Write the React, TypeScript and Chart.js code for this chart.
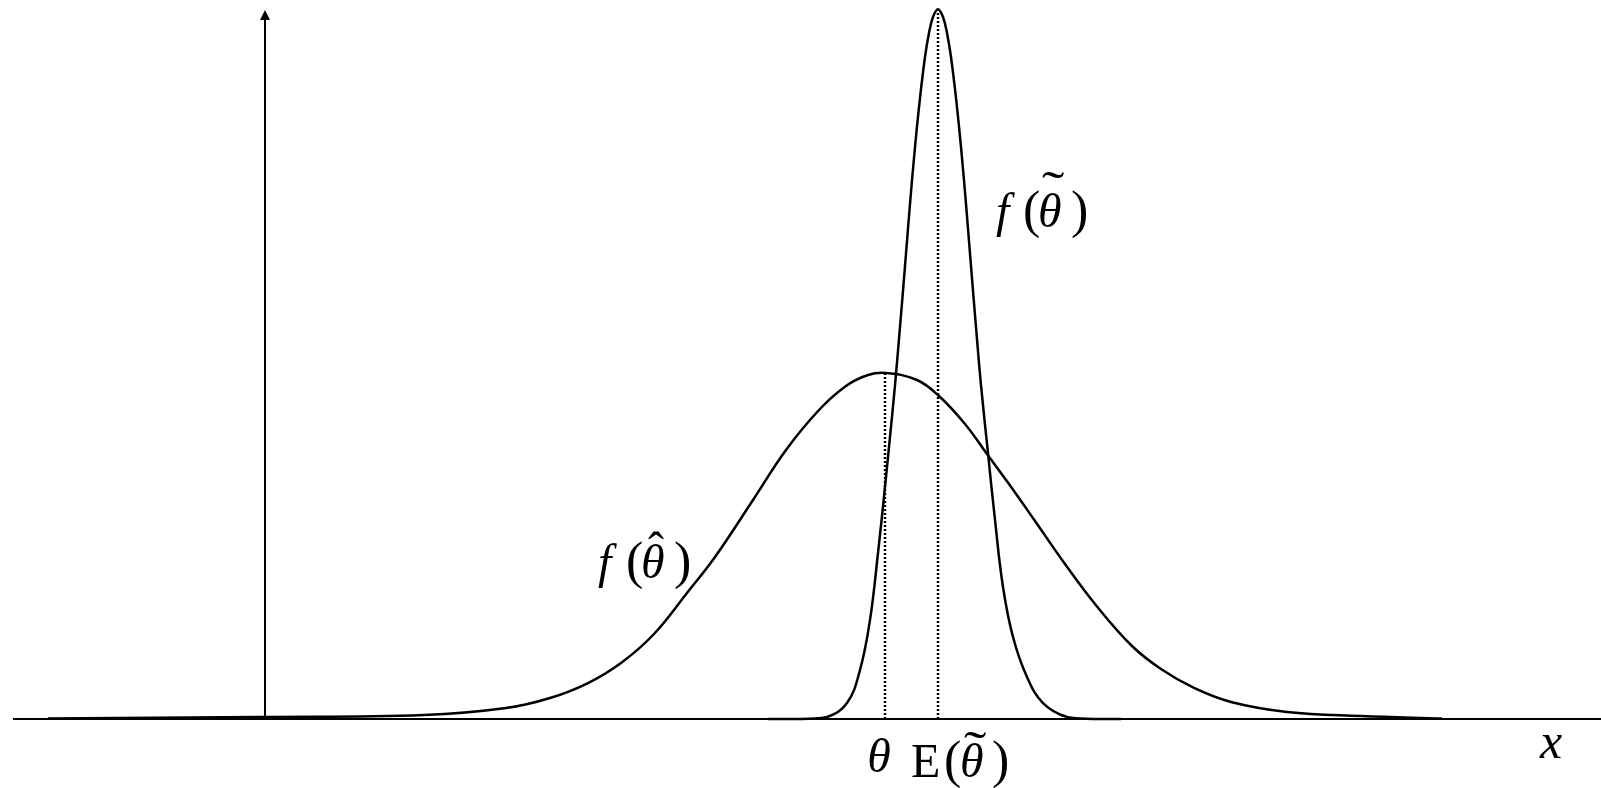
import { useEffect, useRef } from "react";
import { Chart, registerables } from "chart.js";

Chart.register(...registerables);

// Horizontal unit: θ sits at 0; vertical unit: density height (0 = baseline).
const wideX = [
  -83.7, -62.6, -46.1, -37.9, -33.5, -29.7, -26.4, -23.1, -19.8, -17.0, -13.2, -9.9,
  -6.6, -3.9, -1.7, 0.1, 3.2, 5.4, 8.0, 10.2, 12.4, 15.0, 18.0, 21.0, 24.7, 27.6,
  30.9, 34.6, 40.2, 47.6, 55.7,
];
const wideY = [
  0.07, 0.28, 0.56, 1.55, 2.96, 5.07, 7.89, 11.97, 17.75, 22.82, 30.85, 37.89,
  43.52, 46.9, 48.45, 48.73, 47.75, 45.49, 41.55, 37.32, 33.1, 27.89, 21.83, 16.2,
  10.28, 7.04, 4.37, 2.39, 0.99, 0.42, 0.07,
];

const narrowX = [
  -11.7, -8.2, -5.8, -3.8, -2.5, -1.5, -0.7, 0.0, 0.5, 1.0, 1.5, 2.0, 2.5, 3.0, 3.5,
  4.0, 4.4, 4.8, 5.3, 5.8, 6.2, 6.6, 7.1, 7.6, 8.1, 8.6, 9.1, 9.6, 10.3, 11.0, 11.8,
  12.8, 14.2, 15.8, 18.2, 20.8, 23.6,
];
const narrowY = [
  0, 0, 0.28, 2.25, 6.9, 13.94, 23.38, 32.68, 39.72, 47.04, 55.21, 63.8, 72.54,
  80.56, 87.46, 93.24, 96.62, 98.87, 99.96, 98.87, 96.62, 93.24, 87.46, 80.56, 72.54,
  63.8, 55.21, 47.04, 37.46, 28.03, 18.59, 11.55, 5.92, 2.25, 0.28, 0, 0,
];

// Marked positions on the horizontal axis
const THETA = 0;
const E_THETA_TILDE = 5.3;

// Vertical axis placement and arrow tip
const Y_AXIS_AT = -62;
const Y_AXIS_TOP = 99.86;

const X_MIN = -87.2;
const X_MAX = 71.6;
const Y_MAX = 101.27;

const toPoints = (xs: number[], ys: number[]) => xs.map((x, i) => ({ x, y: ys[i] }));

const SERIF = '"Liberation Serif", "Times New Roman", serif';
const it = (px: number) => `italic ${px}px ${SERIF}`;
const up = (px: number) => `${px}px ${SERIF}`;

type Piece = { t: string; dx: number; font: string; dy?: number; sx?: number };

function drawPieces(ctx: CanvasRenderingContext2D, x: number, y: number, pieces: Piece[]) {
  for (const p of pieces) {
    ctx.save();
    ctx.font = p.font;
    ctx.translate(x + p.dx, y + (p.dy ?? 0));
    if (p.sx) ctx.scale(p.sx, 1);
    ctx.fillText(p.t, 0, 0);
    ctx.restore();
  }
}

const axesAndLabels = {
  id: "axesAndLabels",
  beforeDatasetsDraw(chart: Chart) {
    const { ctx, chartArea } = chart;
    const xs = chart.scales.x;
    const ys = chart.scales.y;
    const y0 = ys.getPixelForValue(0);
    ctx.save();
    ctx.strokeStyle = "#000";
    ctx.fillStyle = "#000";
    // horizontal axis
    ctx.lineWidth = 2;
    ctx.beginPath();
    ctx.moveTo(chartArea.left, y0);
    ctx.lineTo(chartArea.right, y0);
    ctx.stroke();
    // vertical axis with arrow head
    const ax = xs.getPixelForValue(Y_AXIS_AT);
    const tip = ys.getPixelForValue(Y_AXIS_TOP);
    ctx.lineWidth = 2;
    ctx.beginPath();
    ctx.moveTo(ax, y0);
    ctx.lineTo(ax, tip + 8);
    ctx.stroke();
    ctx.beginPath();
    ctx.moveTo(ax, tip);
    ctx.lineTo(ax - 5, tip + 10);
    ctx.lineTo(ax + 5, tip + 10);
    ctx.closePath();
    ctx.fill();
    ctx.restore();
  },
  afterDatasetsDraw(chart: Chart) {
    const { ctx, chartArea } = chart;
    const xs = chart.scales.x;
    const ys = chart.scales.y;
    const y0 = ys.getPixelForValue(0);
    ctx.save();
    ctx.fillStyle = "#000";
    ctx.textBaseline = "alphabetic";
    ctx.textAlign = "left";

    // f(θ̂) beside the wide curve
    const hx = xs.getPixelForValue(-29.1);
    const hy = ys.getPixelForValue(19.86);
    drawPieces(ctx, hx, hy, [
      { t: "f", dx: 4, font: it(48) },
      { t: "(", dx: 32, font: up(52) },
      { t: "θ", dx: 47, font: it(48) },
      { t: "ˆ", dx: 54, dy: -12, font: up(48) },
      { t: ")", dx: 80, font: up(52) },
    ]);

    // f(θ̃) beside the narrow curve
    const tx = xs.getPixelForValue(10.7);
    const ty = ys.getPixelForValue(69.23);
    drawPieces(ctx, tx, ty, [
      { t: "f", dx: 4, font: it(48) },
      { t: "(", dx: 31, font: up(52) },
      { t: "θ", dx: 46, font: it(48) },
      { t: "˜", dx: 50, dy: -22, font: up(48), sx: 1.4 },
      { t: ")", dx: 79, font: up(52) },
    ]);

    // θ under its marker
    ctx.textAlign = "center";
    ctx.font = it(48);
    ctx.fillText("θ", xs.getPixelForValue(THETA) - 6, y0 + 53);
    ctx.textAlign = "left";

    // E(θ̃) under its marker
    const ex = xs.getPixelForValue(E_THETA_TILDE) - 27;
    drawPieces(ctx, ex, y0 + 58, [
      { t: "E", dx: 0, font: up(48) },
      { t: "(", dx: 33, font: up(52) },
      { t: "θ", dx: 49, font: it(48) },
      { t: "˜", dx: 53, dy: -12, font: up(48), sx: 1.4 },
      { t: ")", dx: 81, font: up(52) },
    ]);

    // x at the end of the horizontal axis
    ctx.font = it(50);
    ctx.fillText("x", chartArea.right - 61, y0 + 39);
    ctx.restore();
  },
};

export default function App() {
  const ref = useRef<HTMLCanvasElement | null>(null);

  useEffect(() => {
    if (!ref.current) return;
    const widePeak = Math.max(...wideY);
    const narrowPeak = Math.max(...narrowY);
    const curve = {
      borderColor: "#000",
      borderWidth: 2.5,
      pointRadius: 0,
      fill: false,
      tension: 0.4,
      clip: false as const,
    };
    const dotted = {
      borderColor: "#000",
      borderWidth: 2.5,
      borderDash: [2, 2],
      pointRadius: 0,
      fill: false,
      clip: false as const,
    };
    const chart = new Chart(ref.current, {
      type: "line",
      data: {
        datasets: [
          { ...dotted, data: [{ x: THETA, y: 0 }, { x: THETA, y: widePeak }] },
          { ...dotted, data: [{ x: E_THETA_TILDE, y: 0 }, { x: E_THETA_TILDE, y: narrowPeak }] },
          { ...curve, data: toPoints(wideX, wideY) },
          { ...curve, data: toPoints(narrowX, narrowY) },
        ],
      },
      options: {
        responsive: false,
        animation: false,
        devicePixelRatio: 1,
        events: [],
        layout: { padding: { left: 13, right: 0, top: 0, bottom: 69 } },
        scales: {
          x: { type: "linear", min: X_MIN, max: X_MAX, display: false },
          y: { type: "linear", min: 0, max: Y_MAX, display: false },
        },
        plugins: { legend: { display: false }, tooltip: { enabled: false } },
      },
      plugins: [axesAndLabels],
    });
    return () => chart.destroy();
  }, []);

  return (
    <div style={{ position: "fixed", left: 0, top: 0, width: 1601, height: 788, background: "#fff" }}>
      <canvas ref={ref} width={1601} height={788} style={{ display: "block" }} />
    </div>
  );
}
